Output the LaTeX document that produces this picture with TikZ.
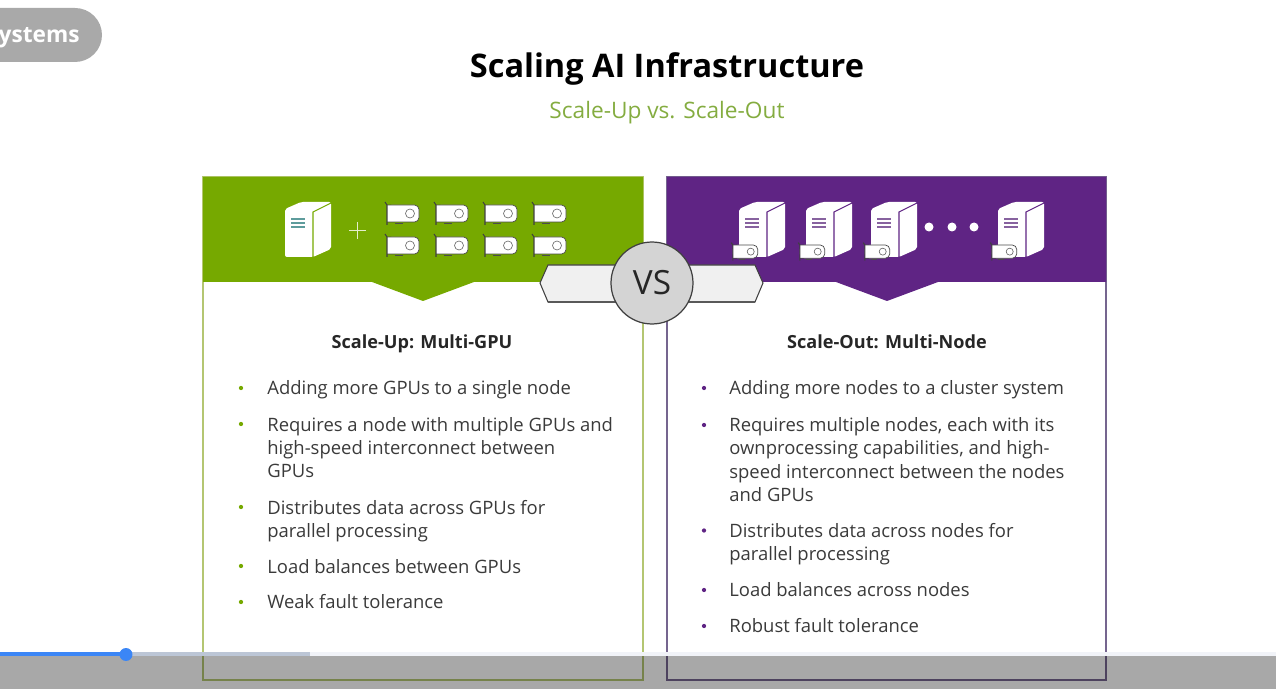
\documentclass[tikz,border=0pt]{standalone}
\usepackage{fontspec}
\setmainfont{Open Sans}
\definecolor{upgreen}{HTML}{76A900}
\definecolor{uplight}{HTML}{B4C672}
\definecolor{subgreen}{HTML}{84AC40}
\definecolor{outpurple}{HTML}{5F2484}
\definecolor{outlight}{HTML}{75658F}
\definecolor{stripeteal}{HTML}{5E9C9C}
\definecolor{stripepurple}{HTML}{87629F}
\definecolor{bodytext}{HTML}{3A3A3A}
\definecolor{pillgray}{HTML}{A9A9A9}
\definecolor{barblue}{HTML}{3B86F6}
\definecolor{bargray}{HTML}{BCC6D6}
\definecolor{barlight}{HTML}{F1F3F8}
\tikzset{
  x=0.02cm, y=-0.02cm,
  itemtext/.style={anchor=west, inner sep=0pt, align=left, text=bodytext, font=\fontsize{10.5}{13.3}\selectfont},
  headtext/.style={inner sep=0pt, text=black!85, font=\fontsize{10.3}{12}\selectfont\bfseries},
  dotgreen/.style={circle, fill=upgreen, inner sep=0pt, minimum size=0.085cm},
  dotpurple/.style={circle, fill=outpurple, inner sep=0pt, minimum size=0.085cm},
  dotwhite/.style={circle, fill=white, inner sep=0pt, minimum size=0.18cm},
  pics/server/.style 2 args={code={
    \fill[white, rounded corners=0.04cm] (0,7) -- (16,0) -- (46,0) -- (46,47) -- (28,55) -- (0,55) -- cycle;
    \draw[#1, line width=0.6pt] (28,55.5) -- (28,10) -- (46,1);
    \draw[#2, line width=1pt] (6,17) -- (20,17);
    \draw[#2, line width=1pt] (6,21) -- (20,21);
    \draw[#2, line width=1pt] (6,25) -- (20,25);
  }},
  pics/gpucard/.style={code={
    \fill[white, rounded corners=0.09cm] (1,0) -- (33,0) -- (33,17) -- (1,17) -- cycle;
    \fill[white] (1,0) rectangle (10,17);
    \draw[black!70, line width=0.4pt, rounded corners=0.09cm] (1,0) -- (33,0) -- (33,17) -- (1,17);
    \draw[black!75, line width=0.6pt] (-1,-3) -- (1,0) -- (1,20);
    \draw[black!70, line width=0.5pt] (9,18) -- (17,18);
    \draw[black!60, line width=0.35pt] (24,8.5) circle [radius=4.5];
  }},
}
\begin{document}
\begin{tikzpicture}
  \useasboundingbox (0,0) rectangle (1276,689);
  %tab at the top
  \fill[pillgray, rounded corners=0.54cm] (0,8) -- (102,8) -- (102,62) -- (0,62);
  \fill[pillgray] (0,8) rectangle (40,62);
  \node[anchor=east, inner sep=0pt, text=white, font=\fontsize{12.9}{16}\selectfont\bfseries] (tabtext) at (80,38) {ystems};
  \node[inner sep=0pt, text=black, font=\fontsize{18.5}{22}\selectfont\bfseries] (title) at (667,68.5) {Scaling AI Infrastructure};
  \node[inner sep=0pt, text=subgreen, font=\fontsize{12.9}{15}\selectfont] (subtitle) at (667,112.5) {Scale-Up vs. Scale-Out};
  %left panel
  \draw[uplight, line width=0.9pt] (203,177) rectangle (643,680);
  \fill[upgreen] (203,177) -- (643,177) -- (643,282) -- (474,282) -- (423,301) -- (372,282) -- (203,282) -- cycle;
  \pic at (285,202) {server={upgreen}{stripeteal}};
  \draw[white!80!upgreen, line width=0.5pt] (349,230) -- (366,230);
  \draw[white!80!upgreen, line width=0.5pt] (357.5,222) -- (357.5,239);
  \pic at (386,205) {gpucard};
  \pic at (435,205) {gpucard};
  \pic at (484,205) {gpucard};
  \pic at (533,205) {gpucard};
  \pic at (386,237) {gpucard};
  \pic at (435,237) {gpucard};
  \pic at (484,237) {gpucard};
  \pic at (533,237) {gpucard};
  %right panel
  \draw[outlight, line width=0.7pt] (667,177) rectangle (1106,680);
  \fill[outpurple] (667,177) -- (1106,177) -- (1106,282) -- (938,282) -- (887,301) -- (836,282) -- (667,282) -- cycle;
  \pic at (739,202) {server={outpurple}{stripepurple}};
  \pic at (806,202) {server={outpurple}{stripepurple}};
  \pic at (871,202) {server={outpurple}{stripepurple}};
  \pic at (998,202) {server={outpurple}{stripepurple}};
  \pic[scale=0.78] at (732,245) {gpucard};
  \pic[scale=0.78] at (799,245) {gpucard};
  \pic[scale=0.78] at (864,245) {gpucard};
  \pic[scale=0.78] at (991,245) {gpucard};
  \node[dotwhite] (dots1) at (929,227) {};
  \node[dotwhite] (dots2) at (952,227) {};
  \node[dotwhite] (dots3) at (974,227) {};
  %vs badge
  \draw[black!75, fill=black!6, line width=0.6pt] (540,283) -- (548,265) -- (755,265) -- (763,283) -- (755,302) -- (548,302) -- cycle;
  \draw[black!65, line width=1pt] (548,302) -- (755,302);
  \node[circle, draw=black!75, fill=black!17, line width=0.7pt, inner sep=0pt, minimum size=1.64cm, text=black!85, font=\fontsize{19}{22}\selectfont] (vs) at (652,283) {VS};
  %left text
  \node[headtext] (uphead) at (422,344) {Scale-Up: Multi-GPU};
  \node[dotgreen] (ub1) at (241,388) {};
  \node[itemtext] (ui1) at (267,390) {Adding more GPUs to a single node};
  \node[dotgreen] (ub2) at (241,424) {};
  \node[itemtext] (ui2) at (267,447.5) {Requires a node with multiple GPUs and\\high-speed interconnect between\\GPUs};
  \node[dotgreen] (ub3) at (241,507) {};
  \node[itemtext] (ui3) at (267,521) {Distributes data across GPUs for\\parallel processing};
  \node[dotgreen] (ub4) at (241,566) {};
  \node[itemtext] (ui4) at (267,566.5) {Load balances between GPUs};
  \node[dotgreen] (ub5) at (241,602) {};
  \node[itemtext] (ui5) at (267,601.5) {Weak fault tolerance};
  %right text
  \node[headtext] (outhead) at (887,341.5) {Scale-Out: Multi-Node};
  \node[dotpurple] (ob1) at (704,388) {};
  \node[itemtext] (oi1) at (729,390) {Adding more nodes to a cluster system};
  \node[dotpurple] (ob2) at (704,425) {};
  \node[itemtext] (oi2) at (729,459.5) {Requires multiple nodes, each with its\\ownprocessing capabilities, and high-\\speed interconnect between the nodes\\and GPUs};
  \node[dotpurple] (ob3) at (704,530.5) {};
  \node[itemtext] (oi3) at (729,544) {Distributes data across nodes for\\parallel processing};
  \node[dotpurple] (ob4) at (704,590) {};
  \node[itemtext] (oi4) at (729,589.5) {Load balances across nodes};
  \node[dotpurple] (ob5) at (704,626) {};
  \node[itemtext] (oi5) at (729,626) {Robust fault tolerance};
  %player bar
  \fill[black, opacity=0.34] (0,656) rectangle (1276,689);
  \fill[barlight] (310,652) rectangle (1276,656);
  \fill[bargray] (126,652) rectangle (310,656);
  \fill[barblue] (0,652) rectangle (126,656);
  \node[circle, fill=barblue, inner sep=0pt, minimum size=0.26cm] (knob) at (126,654.5) {};
\end{tikzpicture}
\end{document}
